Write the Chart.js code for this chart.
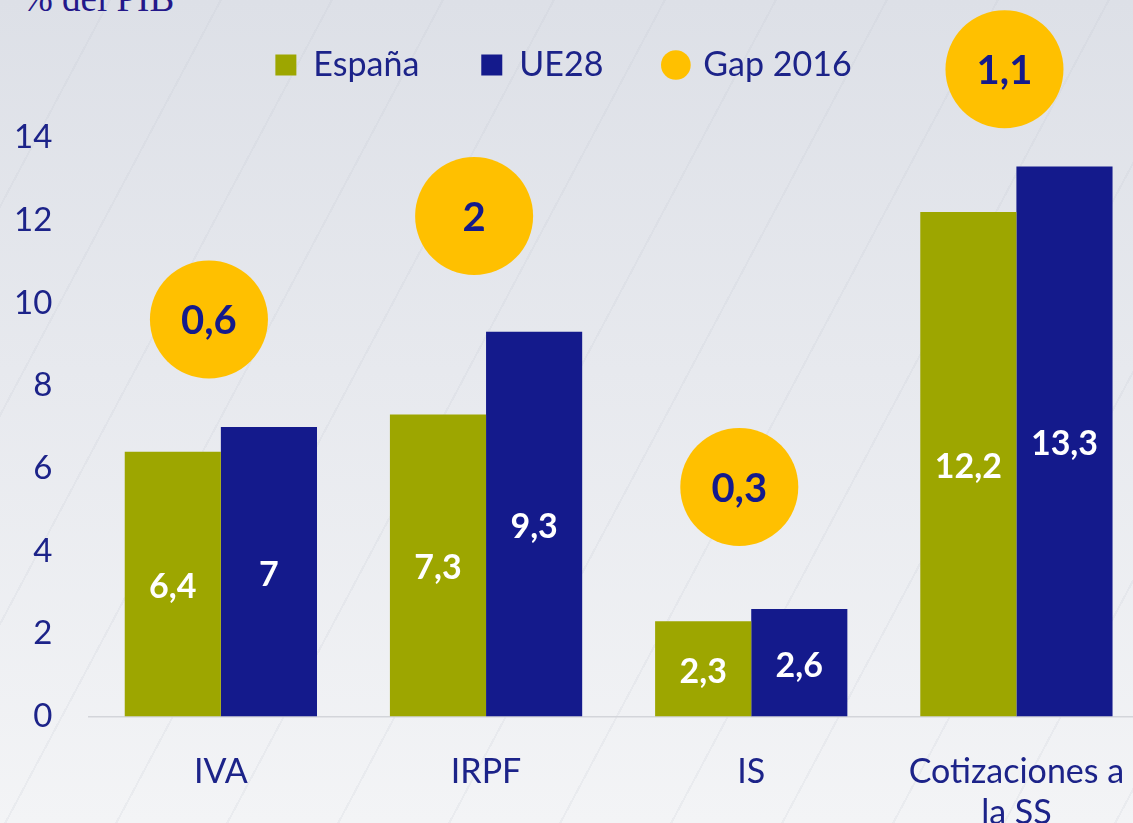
<!DOCTYPE html>
<html>
<head>
<meta charset="utf-8">
<script src="https://cdn.jsdelivr.net/npm/chart.js@4.4.1/dist/chart.umd.min.js"></script>
<style>
  html, body { margin: 0; padding: 0; overflow: hidden; }
  body {
    width: 1133px; height: 823px; position: relative;
    background:
      repeating-linear-gradient(118deg, transparent 0 96px, rgba(190, 195, 206, 0.17) 96px 98px),
      linear-gradient(180deg, #dde0e7 0%, #e7e9ee 45%, #f3f4f6 100%);
  }
  #titulo {
    position: absolute; left: 22px; top: -20px;
    font: 37px "Liberation Serif", serif; line-height: 37px;
    color: #24188a; white-space: nowrap;
  }
  #grafico { position: absolute; left: 0; top: 0; }
</style>
</head>
<body>
<div id="titulo">% del PIB</div>
<canvas id="grafico" width="1162" height="868"></canvas>
<script>
// datos
const categorias = ['IVA', 'IRPF', 'IS', ['Cotizaciones a', 'la SS']];
const espana = [6.4, 7.3, 2.3, 12.2];
const ue28 = [7, 9.3, 2.6, 13.3];
const gap2016 = [0.6, 2, 0.3, 1.1];
// altura (en % del PIB) donde se coloca cada círculo del gap
const gapAltura = [9.6, 12.1, 5.55, 15.65];
const ticksY = [0, 2, 4, 6, 8, 10, 12, 14];

const azul = '#141a8c';
const amarillo = '#ffc000';
const texto = '#1c2389';
const coma = v => String(v).replace('.', ',');

Chart.defaults.font.family = 'Lato';
Chart.defaults.color = texto;

// circulos del gap y numeros dentro de barras y circulos
const etiquetas = {
  id: 'etiquetas',
  afterDatasetsDraw(chart) {
    const ctx = chart.ctx;
    const xs = chart.scales.x, ys = chart.scales.y;
    const paso = xs.getPixelForValue(1) - xs.getPixelForValue(0);
    ctx.save();
    ctx.textAlign = 'center';
    ctx.textBaseline = 'middle';
    [0, 1].forEach(d => {
      chart.getDatasetMeta(d).data.forEach((bar, i) => {
        ctx.font = 'bold 34px Lato';
        ctx.fillStyle = '#ffffff';
        ctx.fillText(coma(chart.data.datasets[d].data[i]), bar.x, (bar.y + bar.base) / 2 + 3);
      });
    });
    gapAltura.forEach((h, i) => {
      const cx = xs.getPixelForValue(i) - 0.045 * paso;
      const cy = ys.getPixelForValue(h);
      ctx.beginPath();
      ctx.arc(cx, cy, 59, 0, Math.PI * 2);
      ctx.fillStyle = amarillo;
      ctx.fill();
      ctx.font = 'bold 40px Lato';
      ctx.fillStyle = azul;
      ctx.fillText(coma(gap2016[i]), cx, cy + 2);
    });
    ctx.restore();
  }
};

const grafico = new Chart(document.getElementById('grafico'), {
  type: 'bar',
  data: {
    labels: categorias,
    datasets: [
      {
        label: 'España',
        data: espana,
        backgroundColor: '#9da600',
        categoryPercentage: 0.725,
        barPercentage: 1
      },
      {
        label: 'UE28',
        data: ue28,
        backgroundColor: azul,
        categoryPercentage: 0.725,
        barPercentage: 1
      }
    ]
  },
  plugins: [etiquetas],
  options: {
    responsive: false,
    animation: false,
    // el eje y suma dos veces el padding de los ticks: se compensa a la izquierda
    layout: { autoPadding: false, padding: { top: -14, left: -22, right: 13, bottom: 0 } },
    plugins: {
      tooltip: { enabled: false },
      legend: {
        position: 'top',
        labels: {
          usePointStyle: true,
          boxWidth: 21,
          boxHeight: 21,
          padding: 62,
          color: texto,
          font: { size: 34 },
          generateLabels(chart) {
            const items = Chart.defaults.plugins.legend.labels.generateLabels(chart);
            items.forEach(it => { it.pointStyle = 'rect'; it.lineWidth = 0; });
            items.push({
              text: 'Gap 2016', fillStyle: amarillo, strokeStyle: amarillo,
              lineWidth: 0, pointStyle: 'circle', hidden: false, fontColor: texto
            });
            return items;
          }
        }
      }
    },
    scales: {
      x: {
        offset: true,
        grid: { display: false, drawTicks: false },
        border: { display: true, color: '#d3d5da', width: 1.5 },
        ticks: { padding: 35, font: { size: 34 }, color: texto }
      },
      y: {
        min: 0,
        max: 15.1,
        grid: { display: false, drawTicks: false },
        border: { display: false },
        afterBuildTicks: axis => { axis.ticks = ticksY.map(v => ({ value: v })); },
        ticks: { padding: 36, font: { size: 33 }, color: texto }
      }
    }
  }
});
</script>
</body>
</html>
